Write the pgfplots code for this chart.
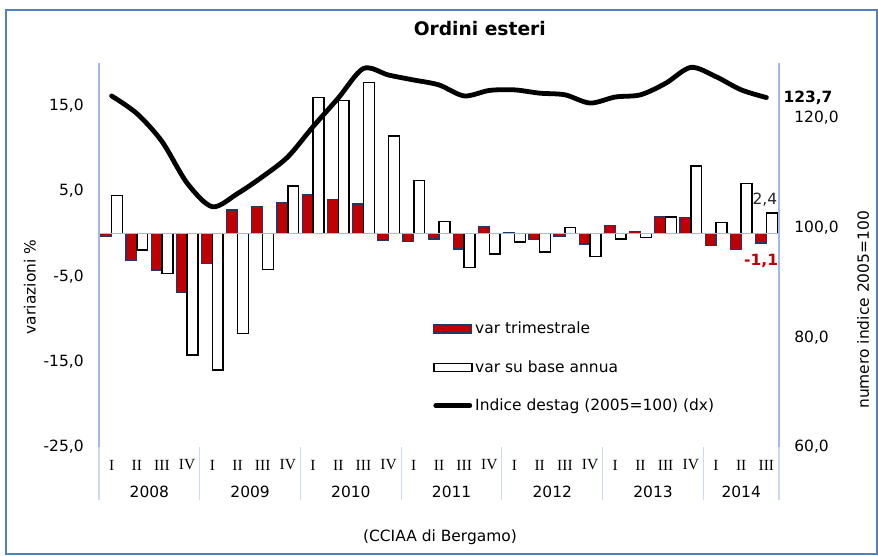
\documentclass[border=0pt]{standalone}
\usepackage{pgfplots}
\pgfplotsset{compat=1.18}
\usepackage{fontspec}
\setmainfont{DejaVu Sans}
\newfontfamily\catfont{Liberation Serif}
\definecolor{axblue}{RGB}{160,185,230}
\definecolor{sepblue}{RGB}{205,217,238}
\definecolor{framebl}{RGB}{79,129,189}
\definecolor{barred}{RGB}{192,0,0}
\definecolor{barnavy}{RGB}{31,56,100}
\definecolor{lblred}{RGB}{192,0,0}
\newcommand\fs{\fontsize{11.6}{13.9}\selectfont}
\pgfplotsset{
  barlegend/.style={legend image code/.code={\draw[##1,/tikz/.cd] (0pt,-3pt) rectangle (28.5pt,3pt);}},
  linelegend/.style={legend image code/.code={\draw[##1,/tikz/.cd] (1.5pt,0pt) -- (27pt,0pt);}},
  numfmt/.style={/pgf/number format/use comma, /pgf/number format/fixed, /pgf/number format/fixed zerofill, /pgf/number format/precision=1, /pgf/number format/assume math mode=true},
}
\begin{document}
\begin{tikzpicture}[font=\fs]
\path[use as bounding box] (-74.25pt,-81.75pt) rectangle (584.25pt,335.25pt);
\draw[framebl, line width=1.5pt] (-69.75pt,-80.25pt) rectangle (583.5pt,327.75pt);
\node[font=\fs] at (255.75pt,-67.5pt) {(CCIAA di Bergamo)};

\begin{axis}[
  at={(0pt,0pt)}, anchor=south west,
  scale only axis, width=510pt, height=288pt,
  xmin=-0.5, xmax=26.5, ymin=-25, ymax=20,
  axis line style={draw=none},
  major tick length=0pt,
  clip=false,
  ybar, bar width=0.43,
  xtick={0,...,26},
  xticklabels={I,II,III,IV,I,II,III,IV,I,II,III,IV,I,II,III,IV,I,II,III,IV,I,II,III,IV,I,II,III},
  xticklabel style={font=\catfont\fs, anchor=center, yshift=-13.5pt},
  extra x ticks={1.5,5.5,9.5,13.5,17.5,21.5,25},
  extra x tick labels={2008,2009,2010,2011,2012,2013,2014},
  extra x tick style={xticklabel style={font=\normalfont\fs, yshift=-20.25pt}},
  ytick={-25,-15,-5,5,15},
  yticklabel style={font=\fs, xshift=-8pt},
  numfmt,
  ylabel={variazioni \%},
  ylabel style={at={(axis description cs:-0.1015,0.4167)}, anchor=center, font=\fs},
  title={Ordini esteri},
  title style={at={(axis description cs:0.560,1.068)}, anchor=center, font=\bfseries\fontsize{14}{16}\selectfont},
  legend style={draw=none, fill=none, at={(axis description cs:0.485,0.34)}, anchor=north west, font=\fs, row sep=14.5pt},
  legend cell align=left,
]
\draw[axblue, line width=1pt] (axis cs:-0.5,-25) -- (axis cs:-0.5,20);
\pgfplotsinvokeforeach{-0.5,3.5,7.5,11.5,15.5,19.5,23.5,26.5}{
  \draw[sepblue, line width=0.8pt] (axis cs:#1,-25) -- ++(0pt,-40pt);
}
\addplot[fill=barred, draw=barnavy, line width=0.9pt, bar shift=-0.215, barlegend] coordinates {
(0,-0.35) (1,-3.1) (2,-4.26) (3,-6.85) (4,-3.47) (5,2.78) (6,3.17) (7,3.64) (8,4.58)
(9,4.03) (10,3.48) (11,-0.74) (12,-0.94) (13,-0.62) (14,-1.8) (15,0.82) (16,0.1)
(17,-0.66) (18,-0.35) (19,-1.2) (20,0.94) (21,0.23) (22,2.03) (23,1.92) (24,-1.4)
(25,-1.9) (26,-1.1)};
\addplot[fill=white, draw=black, line width=1.1pt, bar shift=0.215, barlegend] coordinates {
(0,4.45) (1,-1.9) (2,-4.65) (3,-14.2) (4,-16.0) (5,-11.7) (6,-4.18) (7,5.6) (8,15.95)
(9,15.6) (10,17.7) (11,11.45) (12,6.2) (13,1.4) (14,-3.95) (15,-2.4) (16,-1.0)
(17,-2.15) (18,0.74) (19,-2.7) (20,-0.62) (21,-0.43) (22,1.95) (23,7.94) (24,1.33)
(25,5.86) (26,2.4)};
\addlegendimage{black, line width=3.6pt, line cap=round, linelegend}
\legend{var trimestrale, var su base annua, Indice destag (2005=100) (dx)}
\draw[axblue, line width=1pt] (axis cs:-0.5,0) -- (axis cs:26.5,0);
\node[font=\fs, text=black!85, yshift=10.5pt] at (axis cs:25.94,2.4) {2,4};
\node[font=\bfseries\fs, text=lblred] at (axis cs:25.79,-3.2) {-1,1};
\end{axis}

\begin{axis}[
  at={(0pt,0pt)}, anchor=south west,
  scale only axis, width=510pt, height=288pt,
  xmin=-0.5, xmax=26.5, ymin=60, ymax=130,
  axis line style={draw=none},
  major tick length=0pt,
  xtick=\empty,
  ytick={60,80,100,120},
  yticklabel pos=right,
  yticklabel style={font=\fs, xshift=8pt},
  numfmt,
  ylabel={numero indice 2005=100},
  ylabel style={at={(axis description cs:1.1235,0.357)}, anchor=center, font=\fs},
  clip=false,
]
\draw[axblue, line width=1pt] (axis cs:26.5,60) -- (axis cs:26.5,130);
\addplot[smooth, black, line width=3.6pt, line cap=round, no markers] coordinates {
(0,124.0) (1,120.8) (2,115.7) (3,108.1) (4,103.8) (5,106.2) (6,109.3) (7,112.9)
(8,118.4) (9,123.6) (10,129.0) (11,127.8) (12,126.9) (13,126.0) (14,124.0) (15,125.0)
(16,125.1) (17,124.5) (18,124.2) (19,122.7) (20,123.8) (21,124.2) (22,126.3) (23,129.2)
(24,127.5) (25,125.1) (26,123.7)};
\node[font=\bfseries\fs] at (axis cs:27.65,123.6) {123,7};
\end{axis}
\end{tikzpicture}
\end{document}
